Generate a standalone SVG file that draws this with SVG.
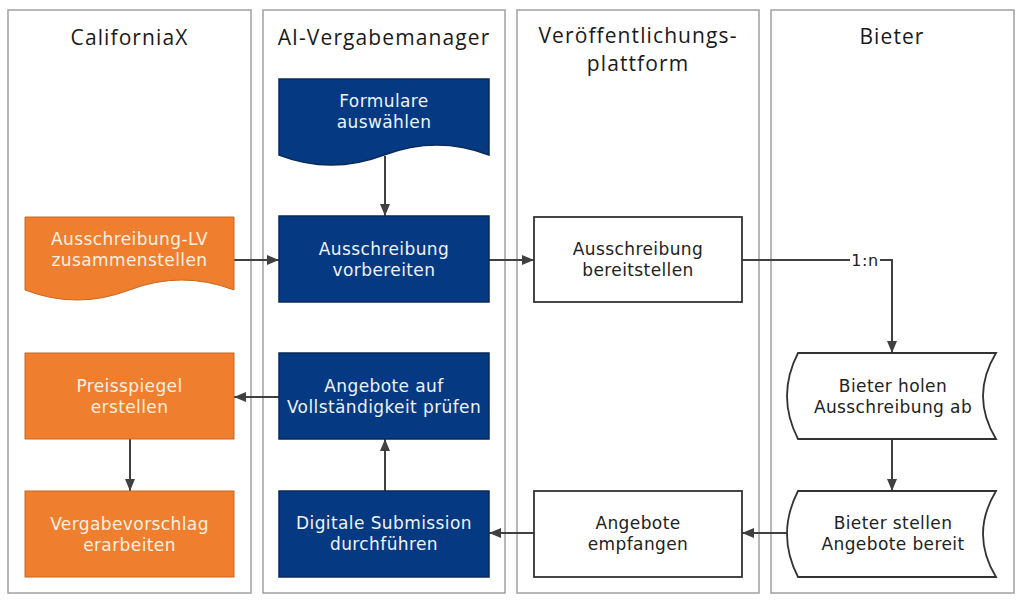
<svg xmlns="http://www.w3.org/2000/svg" width="1024" height="604" viewBox="0 0 1024 604">
  <defs>
    <marker id="arrow" viewBox="0 0 12 10" refX="12" refY="5" markerWidth="12" markerHeight="10" markerUnits="userSpaceOnUse" orient="auto">
      <path d="M0,0 L12,5 L0,10 Z" fill="#404040"/>
    </marker>
    <style>
      .lane { fill: #ffffff; stroke: #a0a0a0; stroke-width: 1.5; }
      .head { font-family: "Open Sans", "Liberation Sans", sans-serif; font-size: 21px; fill: #1a1a1a; text-anchor: middle; letter-spacing: 1.1px; }
      .lbl { font-family: "DejaVu Sans", Verdana, sans-serif; font-size: 17px; text-anchor: middle; letter-spacing: 0.4px; }
      .navy { fill: #053a82; stroke: #0a2a5a; stroke-width: 1.5; }
      .orange { fill: #ef7f2f; stroke: #c9661e; stroke-width: 1; }
      .plain { fill: #ffffff; stroke: #333333; stroke-width: 1.8; }
      .tnavy { fill: #eef2fa; }
      .torange { fill: #fff0e0; }
      .tdark { fill: #222222; }
      .edge { fill: none; stroke: #404040; stroke-width: 2; marker-end: url(#arrow); }
    </style>
  </defs>

  <rect width="1024" height="604" fill="#ffffff"/>

  <!-- swimlanes -->
  <g id="lanes">
    <rect class="lane" x="8" y="10" width="243" height="583"/>
    <rect class="lane" x="263" y="10" width="242" height="583"/>
    <rect class="lane" x="517" y="10" width="242" height="583"/>
    <rect class="lane" x="771" y="10" width="243" height="583"/>
    <text class="head" x="129.5" y="45">CaliforniaX</text>
    <text class="head" x="384" y="45">AI-Vergabemanager</text>
    <text class="head" x="638" y="43">Veröffentlichungs-</text>
    <text class="head" x="638" y="71">plattform</text>
    <text class="head" x="892" y="44">Bieter</text>
  </g>

  <!-- connectors -->
  <g id="connectors">
    <path class="edge" d="M385,156 V216"/>
    <path class="edge" d="M234,260 H279"/>
    <path class="edge" d="M489,260 H534"/>
    <path class="edge" d="M742,260 H892 V353"/>
    <path class="edge" d="M892,439 V491"/>
    <path class="edge" d="M787,533 H742"/>
    <path class="edge" d="M534,533 H489"/>
    <path class="edge" d="M385,491 V439"/>
    <path class="edge" d="M279,397 H234"/>
    <path class="edge" d="M130,439 V491"/>
    <rect x="850" y="250" width="30" height="20" fill="#ffffff"/>
    <text class="lbl tdark" x="865" y="266" style="font-size:16px;letter-spacing:0.6px">1:n</text>
  </g>

  <!-- CaliforniaX -->
  <g id="lv-zusammenstellen">
    <path class="orange" d="M25,217 H234 V290 Q181.5,270 129.5,290 Q77,310 25,290 Z"/>
    <text class="lbl torange" x="129.5" y="245">Ausschreibung-LV</text>
    <text class="lbl torange" x="129.5" y="266">zusammenstellen</text>
  </g>
  <g id="preisspiegel">
    <rect class="orange" x="25" y="353" width="209" height="86"/>
    <text class="lbl torange" x="129.5" y="392">Preisspiegel</text>
    <text class="lbl torange" x="129.5" y="413">erstellen</text>
  </g>
  <g id="vergabevorschlag">
    <rect class="orange" x="25" y="491" width="209" height="86"/>
    <text class="lbl torange" x="129.5" y="530">Vergabevorschlag</text>
    <text class="lbl torange" x="129.5" y="551">erarbeiten</text>
  </g>

  <!-- AI-Vergabemanager -->
  <g id="formulare">
    <path class="navy" d="M279,79 H489 V155 Q437,135 384,155 Q331,175 279,155 Z"/>
    <text class="lbl tnavy" x="384" y="107">Formulare</text>
    <text class="lbl tnavy" x="384" y="128">auswählen</text>
  </g>
  <g id="vorbereiten">
    <rect class="navy" x="279" y="216" width="210" height="86"/>
    <text class="lbl tnavy" x="384" y="255">Ausschreibung</text>
    <text class="lbl tnavy" x="384" y="276">vorbereiten</text>
  </g>
  <g id="pruefen">
    <rect class="navy" x="279" y="353" width="210" height="86"/>
    <text class="lbl tnavy" x="384" y="392">Angebote auf</text>
    <text class="lbl tnavy" x="384" y="413">Vollständigkeit prüfen</text>
  </g>
  <g id="submission">
    <rect class="navy" x="279" y="491" width="210" height="86"/>
    <text class="lbl tnavy" x="384" y="529">Digitale Submission</text>
    <text class="lbl tnavy" x="384" y="550">durchführen</text>
  </g>

  <!-- Veröffentlichungsplattform -->
  <g id="bereitstellen">
    <rect class="plain" x="534" y="217" width="208" height="85"/>
    <text class="lbl tdark" x="638" y="255">Ausschreibung</text>
    <text class="lbl tdark" x="638" y="276">bereitstellen</text>
  </g>
  <g id="empfangen">
    <rect class="plain" x="534" y="491" width="208" height="86"/>
    <text class="lbl tdark" x="638" y="529">Angebote</text>
    <text class="lbl tdark" x="638" y="550">empfangen</text>
  </g>

  <!-- Bieter -->
  <g id="holen">
    <path class="plain" d="M798,353 H996 Q970,396 996,439 H798 Q776,396 798,353 Z"/>
    <text class="lbl tdark" x="893" y="392">Bieter holen</text>
    <text class="lbl tdark" x="893" y="413">Ausschreibung ab</text>
  </g>
  <g id="stellen">
    <path class="plain" d="M798,491 H996 Q970,534 996,577 H798 Q776,534 798,491 Z"/>
    <text class="lbl tdark" x="893" y="529">Bieter stellen</text>
    <text class="lbl tdark" x="893" y="550">Angebote bereit</text>
  </g>
</svg>
